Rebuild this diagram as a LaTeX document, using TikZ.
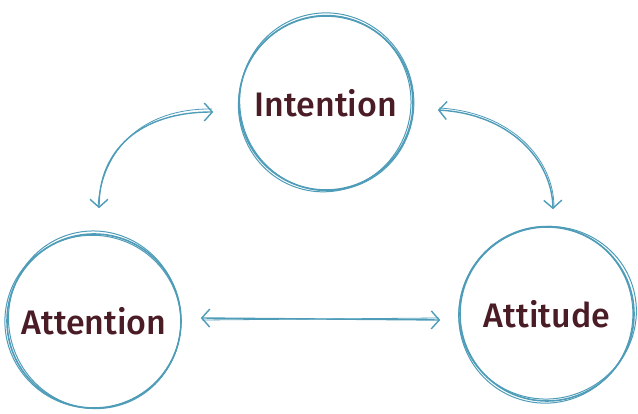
\documentclass[tikz,border=0pt]{standalone}
\usepackage{fontspec}
\setmainfont{Fira Sans}
\newfontfamily\medfont{Fira Sans Medium}
\usetikzlibrary{arrows.meta,calc}
\definecolor{sk}{HTML}{4E9CB8}
\definecolor{tx}{HTML}{4A1C26}
\tikzset{
  bubble/.style={circle,minimum size=174pt,inner sep=0pt,draw=sk,line width=1.6pt,font=\medfont\fontsize{34}{36}\selectfont,text=tx},
  sketch/.style={draw=sk,line width=1pt},
  arr/.style={draw=sk,line width=1.4pt,{Straight Barb[length=8pt,width=18pt]}-{Straight Barb[length=8pt,width=18pt]}},
  arrthin/.style={draw=sk,line width=0.8pt}
}
\begin{document}
\begin{tikzpicture}[x=1pt,y=-1pt]
\useasboundingbox (0,0) rectangle (638,414);
\node[bubble] (int) at (326,103) {Intention};
\node[bubble] (att) at (94,321) {Attention};
\node[bubble] (atd) at (547,314) {Attitude};
% sketch strokes
\draw[sketch,rotate around={12:(326,103)}] (327,102) ellipse (87pt and 89pt);
\draw[sketch,rotate around={-20:(326,103)}] (325,104) ellipse (86pt and 88.5pt);
\draw[sketch,rotate around={15:(94,321)}] (95,320) ellipse (86pt and 89pt);
\draw[sketch,rotate around={-10:(94,321)}] (93,322) ellipse (88pt and 86.5pt);
\draw[sketch,rotate around={18:(547,314)}] (548,313) ellipse (89pt and 86pt);
\draw[sketch,rotate around={-14:(547,314)}] (546,315) ellipse (87pt and 88.5pt);
% arrows
\draw[arr] ($(int.west)+(-25,9)$) .. controls (140,112) and (99,150) .. ($(att.north)+(5,-25)$);
\draw[arrthin] ($(int.west)+(-26,6)$) .. controls (142,108) and (102,150) .. ($(att.north)+(4,-27)$);
\draw[arr] ($(int.east)+(24,7)$) .. controls (510,114) and (552,160) .. ($(atd.north)+(6,-17)$);
\draw[arrthin] ($(int.east)+(25,5)$) .. controls (512,112) and (554,160) .. ($(atd.north)+(7,-19)$);
\draw[arr] ($(att.east)+(19,-3)$) -- ($(atd.west)+(-19,6)$);
\draw[arrthin] ($(att.east)+(20,-1)$) -- ($(atd.west)+(-20,4)$);
\end{tikzpicture}
\end{document}
